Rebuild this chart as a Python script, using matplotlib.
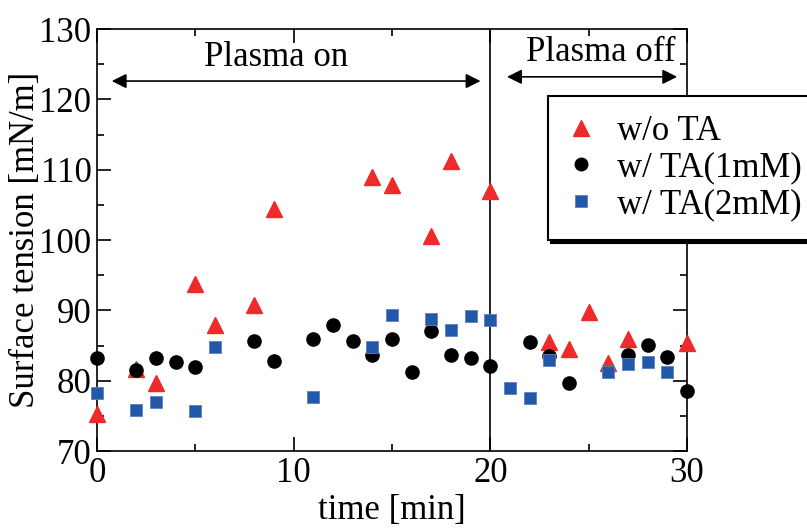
import matplotlib
matplotlib.use("Agg")
import matplotlib.pyplot as plt
from matplotlib.ticker import MultipleLocator

plt.rcParams['font.family'] = ['Liberation Serif', 'DejaVu Serif']

# Data
t_wo = [0, 2, 3, 5, 6, 8, 9, 14, 15, 17, 18, 20, 23, 24, 25, 26, 27, 30]
st_wo = [75.3, 81.7, 79.7, 93.8, 87.9, 90.8, 104.4, 109.0, 107.8, 100.6, 111.3,
         107.0, 85.5, 84.5, 89.8, 82.5, 85.9, 85.4]

t_1mM = [0, 2, 3, 4, 5, 8, 9, 11, 12, 13, 14, 15, 16, 17, 18, 19, 20,
         22, 23, 24, 27, 28, 29, 30]
st_1mM = [83.2, 81.5, 83.2, 82.7, 82.0, 85.6, 82.8, 85.9, 87.9, 85.6, 83.7, 85.9,
          81.2, 87.1, 83.7, 83.2, 82.1, 85.5, 83.5, 79.7, 83.7, 85.1, 83.4, 78.5]

t_2mM = [0, 2, 3, 5, 6, 11, 14, 15, 17, 18, 19, 20, 21, 22, 23, 26, 27, 28, 29]
st_2mM = [78.2, 75.8, 77.0, 75.7, 84.8, 77.7, 84.8, 89.3, 88.8, 87.2, 89.2, 88.6,
          79.0, 77.5, 82.9, 81.2, 82.4, 82.7, 81.2]

labels = ['w/o TA', 'w/ TA(1mM)', 'w/ TA(2mM)']
colors = ['#ee2a2a', '#000000', '#2358a8']

FS = 25

fig = plt.figure(figsize=(8.07, 5.29), dpi=100)
ax = fig.add_axes([97/807, 1 - 451/529, (687-97)/807, (451-29)/529])

h1, = ax.plot(t_wo, st_wo, linestyle='none', marker='^', ms=11.5, color=colors[0],
              mec=colors[0], label=labels[0], zorder=3, clip_on=False)
h2, = ax.plot(t_1mM, st_1mM, linestyle='none', marker='o', ms=9.5, color=colors[1],
              label=labels[1], zorder=4, clip_on=False)
h3, = ax.plot(t_2mM, st_2mM, linestyle='none', marker='s', ms=9, color=colors[2],
              mec='#5a82c0', mew=0.6, label=labels[2], zorder=5, clip_on=False)

ax.set_xlim(0, 30)
ax.set_ylim(70, 130)
ax.xaxis.set_major_locator(MultipleLocator(10))
ax.xaxis.set_minor_locator(MultipleLocator(5))
ax.yaxis.set_major_locator(MultipleLocator(10))
ax.yaxis.set_minor_locator(MultipleLocator(5))
ax.tick_params(which='both', direction='in', top=True, right=True, width=1.2,
               labelsize=FS, colors='black')
ax.tick_params(which='major', length=10, pad=4)
ax.tick_params(which='minor', length=5)
for s in ax.spines.values():
    s.set_linewidth(1.2)

ax.set_xlabel('time [min]', fontsize=FS, labelpad=3)
ax.set_ylabel('Surface tension [mN/m]', fontsize=FS, labelpad=-2)

ax.axvline(20, color='black', lw=1.2, zorder=2)

ax.annotate('', xy=(0.75, 122.6), xytext=(19.5, 122.6),
            arrowprops=dict(arrowstyle='<|-|>', color='black', lw=1.2,
                            mutation_scale=22, shrinkA=0, shrinkB=0))
ax.annotate('', xy=(20.85, 123.2), xytext=(29.5, 123.2),
            arrowprops=dict(arrowstyle='<|-|>', color='black', lw=1.2,
                            mutation_scale=22, shrinkA=0, shrinkB=0))
ax.text(9.1, 125.9, 'Plasma on', fontsize=FS, ha='center', va='center')
ax.text(25.6, 126.6, 'Plasma off', fontsize=FS, ha='center', va='center')

leg = fig.legend(handles=[h1, h2, h3], loc='upper left',
                 bbox_to_anchor=(548/807, 1 - 96/529), fontsize=FS,
                 frameon=True, fancybox=False, markerscale=0.95,
                 handlelength=0.8, handletextpad=0.65, borderpad=0.55,
                 labelspacing=0.1, borderaxespad=0,
                 shadow={'color': 'black', 'alpha': 1})
leg.get_frame().set_edgecolor('black')
leg.get_frame().set_linewidth(1.5)
leg.get_frame().set_alpha(1)

fig.savefig('out.png', dpi=100)
